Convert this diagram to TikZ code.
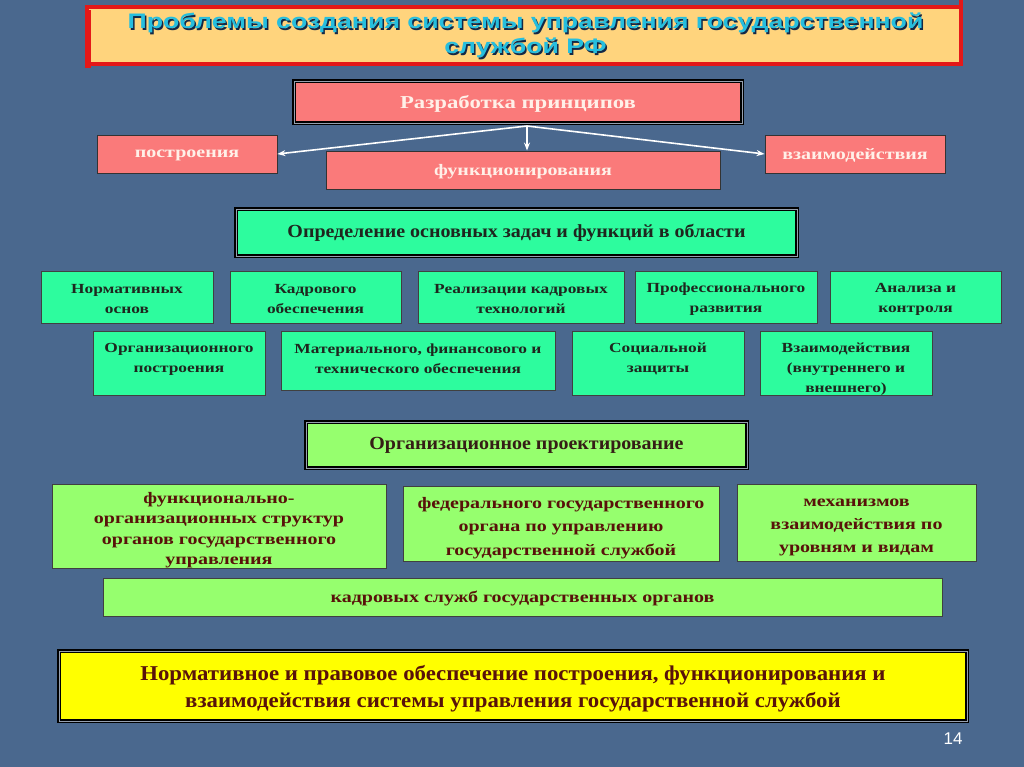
\documentclass[tikz,border=0pt]{standalone}
\usepackage{fontspec}
\setmainfont{Liberation Serif}[FakeStretch=1.08]
\newfontfamily\wideserif{Liberation Serif}[FakeStretch=1.25]
\newfontfamily\titlefont{Liberation Sans}[FakeStretch=1.27]
\newfontfamily\numfont{Liberation Sans}
\usetikzlibrary{arrows.meta}
\definecolor{bgc}{RGB}{74,104,142}
\definecolor{titlefill}{RGB}{255,212,125}
\definecolor{titlered}{RGB}{228,24,24}
\definecolor{titletext}{RGB}{38,190,222}
\definecolor{titleshadow}{RGB}{20,40,70}
\definecolor{pinkc}{RGB}{250,122,122}
\definecolor{pinktext}{RGB}{255,240,232}
\definecolor{springc}{RGB}{45,252,158}
\definecolor{lgreen}{RGB}{150,255,110}
\definecolor{yellowc}{RGB}{255,255,0}
\definecolor{darktext}{RGB}{30,38,30}
\definecolor{browntext}{RGB}{88,18,10}
\definecolor{framegray}{RGB}{150,160,175}
\tikzset{
  box/.style={line width=0.9pt, inner sep=0pt, align=center},
  pinkbox/.style={box, draw=black!80, fill=pinkc, text=pinktext, text depth=0pt,
    font=\wideserif\bfseries\fontsize{16}{19}\selectfont},
  gbox/.style={box, draw=black!75, fill=springc},
  gtext/.style={inner sep=0pt, align=center, text=darktext,
    font=\wideserif\bfseries\fontsize{13.9}{20}\selectfont},
  lgbox/.style={box, draw=black!75, fill=lgreen},
  lgtext/.style={inner sep=0pt, align=center, text=browntext,
    font=\wideserif\bfseries\fontsize{16}{21}\selectfont},
  framed/.style={draw=black, line width=1.6pt, double=framegray, double distance=0.9pt},
  warrow/.style={draw=white, line width=1.6pt, -{Stealth[length=8pt,width=6pt]}},
}
\begin{document}
\begin{tikzpicture}[x=1pt,y=-1pt]
\fill[bgc] (0,0) rectangle (1024,767);
\useasboundingbox (0,0) rectangle (1024,767);

% title
\draw[titlered, line width=4pt, fill=titlefill] (87,7) rectangle (961,64);
\draw[titlered, line width=4pt] (961,0) -- (961,9);
\draw[titlered, line width=6pt] (88,10) -- (88,68);
\node[text=titleshadow, font=\titlefont\bfseries\fontsize{21}{25}\selectfont, align=center]
  (titleshadow) at (527,37) {Проблемы создания системы управления государственной\\службой РФ};
\node[text=titletext, font=\titlefont\bfseries\fontsize{21}{25}\selectfont, align=center]
  (title) at (525.5,35.5) {Проблемы создания системы управления государственной\\службой РФ};

% principles
\node[pinkbox, framed, minimum width=448pt, minimum height=42pt,
  font=\wideserif\bfseries\fontsize{18.2}{20}\selectfont] (razr) at (518,102) {Разработка принципов};
\node[pinkbox, minimum width=180pt, minimum height=38pt] (post) at (187,154) {построения};
\node[pinkbox, minimum width=394pt, minimum height=38pt] (func) at (523,170) {функционирования};
\node[pinkbox, minimum width=180pt, minimum height=38pt] (vzaim) at (855,154) {взаимодействия};
\coordinate (apex) at (527,126);
\draw[warrow] (apex) -- (post.east);
\draw[warrow] (apex) -- (apex |- func.north);
\draw[warrow] (apex) -- (vzaim.west);

% tasks
\node[gbox, framed, minimum width=561pt, minimum height=47pt, text=darktext,
  font=\bfseries\fontsize{18.5}{20}\selectfont] (opred) at (516.5,232.5)
  {Определение основных задач и функций в области};
\node[gbox, minimum width=172pt, minimum height=52pt] (n1) at (127,297) {};
\node[gbox, minimum width=171pt, minimum height=52pt] (n2) at (315.5,297) {};
\node[gbox, minimum width=206pt, minimum height=52pt] (n3) at (521,297) {};
\node[gbox, minimum width=182pt, minimum height=52pt] (n4) at (726,297) {};
\node[gbox, minimum width=171pt, minimum height=52pt] (n5) at (915.5,297) {};
\node[gtext] (n1t) at (127,299) {Нормативных\\основ};
\node[gtext] (n2t) at (315.5,299) {Кадрового\\обеспечения};
\node[gtext] (n3t) at (521,299) {Реализации кадровых\\технологий};
\node[gtext] (n4t) at (726,299) {Профессионального\\развития};
\node[gtext] (n5t) at (915.5,299) {Анализа и\\контроля};
\node[gbox, minimum width=172pt, minimum height=64pt] (m1) at (179,363) {};
\node[gbox, minimum width=274pt, minimum height=59pt] (m2) at (418,360.5) {};
\node[gbox, minimum width=172pt, minimum height=64pt] (m3) at (658,363) {};
\node[gbox, minimum width=172pt, minimum height=64pt] (m4) at (846,363) {};
\node[gtext] (m1t) at (179,359) {Организационного\\построения};
\node[gtext] (m2t) at (418,359) {Материального, финансового и\\технического обеспечения};
\node[gtext] (m3t) at (658,359) {Социальной\\защиты};
\node[gtext] (m4t) at (846,369) {Взаимодействия\\(внутреннего и\\внешнего)};

% organisational design
\node[lgbox, framed, minimum width=441pt, minimum height=46pt, text=darktext!60!browntext,
  font=\bfseries\fontsize{18.5}{20}\selectfont] (orgp) at (526.5,445) {Организационное проектирование};
\node[lgbox, minimum width=334pt, minimum height=84pt] (k1) at (219,526) {};
\node[lgbox, minimum width=316pt, minimum height=75pt] (k2) at (561,523.5) {};
\node[lgbox, minimum width=239pt, minimum height=77pt] (k3) at (856.5,522.5) {};
\node[lgbox, minimum width=839pt, minimum height=38pt] (k4) at (522.5,597) {};
\node[lgtext, font=\wideserif\bfseries\fontsize{16}{20.5}\selectfont] (k1t) at (219,530)
  {функционально-\\организационных структур\\органов государственного\\управления};
\node[lgtext, font=\wideserif\bfseries\fontsize{16}{23.5}\selectfont] (k2t) at (561,528)
  {федерального государственного\\органа по управлению\\государственной службой};
\node[lgtext, font=\wideserif\bfseries\fontsize{16}{23}\selectfont] (k3t) at (856.5,527.5)
  {механизмов\\взаимодействия по\\уровням и видам};
\node[lgtext, text depth=0pt] (k4t) at (522.5,597)
  {кадровых служб государственных органов};

% normative
\node[box, framed, fill=yellowc, minimum width=908pt, minimum height=70pt] (norm) at (513,686) {};
\node[inner sep=0pt, align=center, text=browntext,
  font=\bfseries\fontsize{21.1}{27}\selectfont] (normt) at (513,689)
  {Нормативное и правовое обеспечение построения, функционирования и\\взаимодействия системы управления государственной службой};

\node[text=white, font=\numfont\fontsize{17}{20}\selectfont] (pnum) at (953,739) {14};
\end{tikzpicture}
\end{document}
